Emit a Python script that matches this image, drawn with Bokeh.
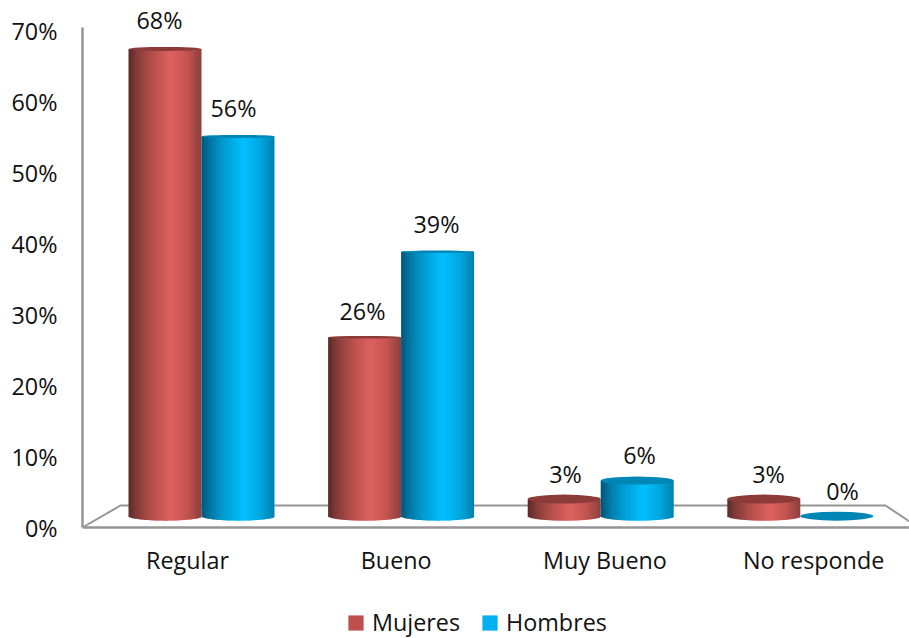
import math
from bokeh.plotting import figure
from bokeh.models import FixedTicker, Legend, LegendItem, ColumnDataSource
from bokeh.core.properties import value
from bokeh.embed import file_html
from bokeh.resources import INLINE

categories = ["Regular", "Bueno", "Muy Bueno", "No responde"]
mujeres = [68.4, 26.2, 2.5, 2.5]
hombres = [55.6, 38.7, 5.2, 0.0]
mujeres_labels = ["68%", "26%", "3%", "3%"]
hombres_labels = ["56%", "39%", "6%", "0%"]
y_ticks = [0, 10, 20, 30, 40, 50, 60, 70]
y_tick_labels = ["0%", "10%", "20%", "30%", "40%", "50%", "60%", "70%"]
# visible half-height of each cylinder's top face, in pixels
mujeres_cap = [2.0, 1.3, 4.5, 4.5]
hombres_cap = [1.5, 1.3, 4.0, 4.5]

FONT = "Open Sans"
FS = "17.5pt"
W, H = 909, 638
LEFT = 82
PX_Y = 7.1                 # pixels per percent on the axis
PX_X = 208.7               # pixels per category on the front plane

x0 = -(187 - LEFT) / PX_X
x1 = x0 + (W - LEFT) / PX_X
y_top = 527 / PX_Y
y_bot = -(H - 527) / PX_Y

p = figure(width=W, height=H, output_backend="svg", toolbar_location=None,
           x_range=(x0, x1), y_range=(y_bot, y_top),
           min_border_left=LEFT, min_border_right=0, min_border_top=0, min_border_bottom=0,
           outline_line_color=None, background_fill_color="white", border_fill_color="white")
p.grid.visible = False

# axes
p.yaxis.bounds = (0, 70.4)
p.yaxis.ticker = FixedTicker(ticks=y_ticks)
p.yaxis.major_label_overrides = dict(zip(y_ticks, y_tick_labels))
p.yaxis.major_tick_line_color = None
p.yaxis.minor_tick_line_color = None
p.yaxis.axis_line_color = "#959595"
p.yaxis.axis_line_width = 2.5
p.yaxis.major_label_text_font = FONT
p.yaxis.major_label_text_font_size = FS
p.yaxis.major_label_text_color = "#111111"
p.yaxis.major_label_standoff = 19

xt = list(range(len(categories)))
p.xaxis.fixed_location = 0
p.xaxis.ticker = FixedTicker(ticks=xt)
p.xaxis.major_label_overrides = dict(zip(xt, categories))
p.xaxis.major_tick_line_color = None
p.xaxis.minor_tick_line_color = None
p.xaxis.axis_line_color = "#959595"
p.xaxis.axis_line_width = 2.5
p.xaxis.major_label_text_font = FONT
p.xaxis.major_label_text_font_size = FS
p.xaxis.major_label_text_color = "#111111"
p.xaxis.major_label_standoff = 10

# projection from the axis plane to the plane the cylinders stand on
DEPTH_Y = 1.6
SCALE_Y = 6.83 / PX_Y
def by(v):
    return DEPTH_Y + SCALE_Y * v
BAR_W = 73 / PX_X
STEP = 199.6 / PX_X
OFF = (201 - 187) / PX_X
def bx(i):
    return OFF + i * STEP

# floor outline
FLOOR_Y = 22 / PX_Y
fl = (120 - 187) / PX_X
fr = (885 - 187) / PX_X
fo = (82 - 187) / PX_X
fe = (918 - 187) / PX_X
p.line([fo, fl, fr, fe], [0, FLOOR_Y, FLOOR_Y, 0], line_color="#959595", line_width=2)

def lerp_stops(stops, t):
    for (a, ca), (b, cb) in zip(stops, stops[1:]):
        if t <= b:
            f = (t - a) / (b - a)
            c = [round(ca[k] + (cb[k] - ca[k]) * f) for k in range(3)]
            return "#%02x%02x%02x" % tuple(c)
    return "#%02x%02x%02x" % stops[-1][1]

RED = [(0, (0x5a, 0x2a, 0x28)), (0.12, (0x85, 0x3c, 0x3a)), (0.3, (0xb0, 0x4d, 0x4a)),
       (0.58, (0xde, 0x62, 0x5f)), (0.8, (0xc4, 0x55, 0x52)), (1, (0x8c, 0x40, 0x3d))]
BLUE = [(0, (0x00, 0x55, 0x78)), (0.12, (0x00, 0x78, 0xa5)), (0.3, (0x00, 0x9c, 0xd0)),
        (0.58, (0x00, 0xc0, 0xff)), (0.8, (0x00, 0xa8, 0xe0)), (1, (0x00, 0x80, 0xae))]
N = 36
RY_BASE = 4.5 / PX_Y

def cylinders(vals, caps, side, stops, cap_color):
    lefts, rights, tops, bots, cols = [], [], [], [], []
    cx, cy, ch = [], [], []
    w = BAR_W / N
    for i, v in enumerate(vals):
        c = bx(i) + side * BAR_W / 2
        cx.append(c)
        cy.append(by(v))
        ch.append(2 * caps[i] / PX_Y)
        if v <= 0:
            continue
        for k in range(N):
            t = (k + 0.5) / N
            u = 2 * t - 1
            l = c - BAR_W / 2 + k * w
            lefts.append(l)
            # each strip runs under the next one, so no seams show
            rights.append(min(l + 1.6 * w, c + BAR_W / 2))
            tops.append(by(v))
            bots.append(by(0) - RY_BASE * math.sqrt(1 - u * u))
            cols.append(lerp_stops(stops, t))
    src = ColumnDataSource(dict(left=lefts, right=rights, top=tops, bottom=bots, color=cols))
    p.quad(left="left", right="right", top="top", bottom="bottom", fill_color="color",
           line_color=None, source=src)
    p.ellipse(x=cx, y=cy, width=BAR_W, height=ch, fill_color=cap_color, line_color=None)
    return cy

ry_m = cylinders(mujeres, mujeres_cap, -1, RED, "#8d3b39")
ry_h = cylinders(hombres, hombres_cap, 1, BLUE, "#0086b4")

# data labels
LAB_STEP = 203 / PX_X
lab = dict(text_font=value(FONT), text_font_size=FS, text_color="#111111",
           text_align="center", text_baseline="middle")
def lab_y(cy, v):
    return cy + (25 + 0.06 * v) / PX_Y
p.text(x=[(159 - 187) / PX_X + i * LAB_STEP for i in xt],
       y=[lab_y(c, v) for c, v in zip(ry_m, mujeres)], text=mujeres_labels, **lab)
p.text(x=[(233 - 187) / PX_X + i * LAB_STEP for i in xt],
       y=[lab_y(c, v) for c, v in zip(ry_h, hombres)], text=hombres_labels, **lab)

# legend swatches: zero-height bars that only supply the legend colours
r1 = p.vbar(x=[bx(0)], top=[by(0)], bottom=[by(0)], width=0, fill_color="#c0504d", line_color=None)
r2 = p.vbar(x=[bx(0)], top=[by(0)], bottom=[by(0)], width=0, fill_color="#00b0f0", line_color=None)
legend = Legend(items=[LegendItem(label="Mujeres", renderers=[r1]),
                       LegendItem(label="Hombres", renderers=[r2])],
                orientation="horizontal", location=(264, 0), border_line_color=None,
                background_fill_alpha=0, label_text_font=FONT, label_text_font_size=FS,
                label_text_color="#111111", glyph_width=19, glyph_height=19,
                label_standoff=7, spacing=20, padding=0, margin=0)
p.add_layout(legend)

open("out.html", "w").write(file_html(p, INLINE))
